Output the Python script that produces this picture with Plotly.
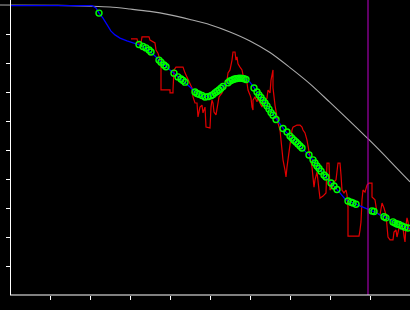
import plotly.graph_objects as go

# Reference curve (gray)
ref_x = [-0.25, 1.0, 1.5, 2.0, 2.5, 3.0, 3.5, 4.0, 4.5, 5.0, 5.5, 6.0, 6.5, 7.0, 7.5, 8.0, 8.5, 9.0, 9.5, 10.0]
ref_y = [1.0, 0.999, 0.998, 0.996, 0.993, 0.986, 0.978, 0.966, 0.950, 0.932, 0.907, 0.876, 0.836,
         0.784, 0.728, 0.664, 0.599, 0.532, 0.462, 0.390]

# Raw noisy series (red)
raw_x = [3.025, 3.175, 3.2, 3.275, 3.3, 3.475, 3.5, 3.575, 3.625, 3.65, 3.7, 3.75, 3.775, 3.775,
         4.0, 4.0, 4.075, 4.075, 4.1, 4.15, 4.325, 4.375, 4.45, 4.5, 4.55, 4.575, 4.625, 4.675,
         4.7, 4.75, 4.8, 4.825, 4.875, 4.9, 5.0, 5.025, 5.05, 5.075, 5.1, 5.15, 5.175, 5.2, 5.225,
         5.3, 5.325, 5.375, 5.425, 5.45, 5.5, 5.55, 5.575, 5.625, 5.65, 5.675, 5.7, 5.75, 5.8,
         5.825, 5.875, 5.925, 5.95, 6.0, 6.025, 6.05, 6.075, 6.075, 6.125, 6.175, 6.2, 6.25, 6.3,
         6.325, 6.375, 6.425, 6.45, 6.5, 6.525, 6.575, 6.575, 6.625, 6.675, 6.7, 6.75, 6.8, 6.825,
         6.875, 6.9, 6.925, 6.95, 7.0, 7.05, 7.075, 7.175, 7.25, 7.3, 7.325, 7.375, 7.425, 7.45,
         7.5, 7.55, 7.575, 7.6, 7.625, 7.675, 7.725, 7.75, 7.825, 7.9, 7.925, 7.975, 8.0, 8.05,
         8.1, 8.15, 8.2, 8.25, 8.275, 8.3, 8.35, 8.4, 8.425, 8.45, 8.45, 8.725, 8.75, 8.775, 8.8,
         8.825, 8.875, 8.925, 8.975, 9.05, 9.05, 9.125, 9.175, 9.25, 9.3, 9.35, 9.4, 9.425, 9.45,
         9.5, 9.575, 9.6, 9.65, 9.675, 9.725, 9.775, 9.825, 9.85, 9.875, 9.9, 9.925, 9.95, 9.975, 10.0]
raw_y = [0.883, 0.883, 0.869, 0.869, 0.890, 0.890, 0.879, 0.872, 0.869, 0.845, 0.834, 0.810, 0.790, 0.707,
         0.707, 0.697, 0.697, 0.707, 0.776, 0.786, 0.786, 0.766, 0.741, 0.724, 0.714, 0.683, 0.662, 0.662,
         0.614, 0.648, 0.655, 0.628, 0.648, 0.579, 0.576, 0.648, 0.672, 0.662, 0.631, 0.621, 0.648, 0.672, 0.683,
         0.697, 0.707, 0.717, 0.741, 0.766, 0.776, 0.810, 0.838, 0.838, 0.810, 0.821, 0.797, 0.786, 0.776,
         0.759, 0.752, 0.731, 0.707, 0.690, 0.679, 0.648, 0.638, 0.672, 0.683, 0.666, 0.679, 0.662, 0.648,
         0.662, 0.666, 0.679, 0.707, 0.697, 0.741, 0.776, 0.714, 0.655, 0.614, 0.593, 0.569, 0.510, 0.466,
         0.431, 0.407, 0.441, 0.466, 0.534, 0.569, 0.579, 0.586, 0.586, 0.579, 0.569, 0.559, 0.534, 0.510,
         0.476, 0.441, 0.407, 0.372, 0.397, 0.424, 0.362, 0.334, 0.341, 0.352, 0.455, 0.455, 0.362, 0.369,
         0.390, 0.397, 0.455, 0.455, 0.414, 0.362, 0.352, 0.362, 0.345, 0.303, 0.203, 0.203, 0.224, 0.252, 0.328,
         0.362, 0.355, 0.379, 0.386, 0.386, 0.338, 0.328, 0.283, 0.276, 0.317, 0.300, 0.276, 0.224, 0.200,
         0.190, 0.190, 0.217, 0.224, 0.200, 0.231, 0.241, 0.231, 0.203, 0.183, 0.241, 0.266, 0.252, 0.224, 0.231]

# Smoothed series (blue)
fit_x = [0.0, 2.05, 2.15, 2.225, 2.325, 2.425, 2.525, 2.625, 2.75, 2.925, 3.125, 3.25, 3.4, 3.5,
         3.625, 3.75, 3.875, 4.0, 4.125, 4.25, 4.375, 4.5, 4.625, 4.75, 4.875, 5.0, 5.125, 5.25,
         5.375, 5.5, 5.625, 5.75, 5.875, 6.0, 6.125, 6.25, 6.375, 6.5, 6.625, 6.75, 6.875, 7.0,
         7.125, 7.25, 7.375, 7.5, 7.625, 7.75, 7.875, 8.0, 8.125, 8.25, 8.375, 8.5, 8.625, 8.75,
         8.875, 9.0, 9.125, 9.25, 9.375, 9.5, 9.625, 9.75, 9.875, 10.0]
fit_y = [0.998, 0.998, 0.990, 0.972, 0.955, 0.934, 0.910, 0.897, 0.886, 0.876, 0.869, 0.862, 0.852, 0.841,
         0.824, 0.807, 0.790, 0.776, 0.762, 0.748, 0.734, 0.717, 0.700, 0.690, 0.683, 0.686, 0.697, 0.710,
         0.724, 0.738, 0.745, 0.748, 0.745, 0.734, 0.710, 0.686, 0.662, 0.634, 0.610, 0.586, 0.566, 0.548,
         0.531, 0.514, 0.497, 0.479, 0.455, 0.431, 0.410, 0.390, 0.372, 0.352, 0.331, 0.321, 0.314, 0.307,
         0.300, 0.293, 0.286, 0.276, 0.269, 0.259, 0.248, 0.241, 0.234, 0.228]

# Sample points (green circles)
pts_x = [2.225, 3.225, 3.325, 3.4, 3.475, 3.525, 3.725, 3.775, 3.85, 3.9, 4.1, 4.2, 4.275, 4.325, 4.375,
         4.625, 4.675, 4.725, 4.8, 4.875, 4.95, 5.025, 5.075, 5.125, 5.175, 5.225, 5.275, 5.325,
         5.45, 5.5, 5.55, 5.6, 5.65, 5.7, 5.75, 5.8, 5.85, 5.9,
         6.1, 6.175, 6.225, 6.275, 6.325, 6.375, 6.425, 6.475, 6.525, 6.575, 6.65,
         6.825, 6.925, 7.0, 7.05, 7.1, 7.15, 7.2, 7.25, 7.3,
         7.475, 7.575, 7.625, 7.675, 7.725, 7.775, 7.85, 7.9, 8.025, 8.1, 8.175,
         8.45, 8.525, 8.575, 8.65, 9.05, 9.1, 9.35, 9.4,
         9.575, 9.625, 9.675, 9.725, 9.8, 9.875, 9.95]
pts_y = [0.972, 0.864, 0.857, 0.852, 0.845, 0.838, 0.810, 0.803, 0.793, 0.787, 0.765, 0.752, 0.745, 0.740, 0.734,
         0.700, 0.695, 0.692, 0.688, 0.683, 0.684, 0.687, 0.691, 0.697, 0.702, 0.707, 0.713, 0.719,
         0.732, 0.738, 0.741, 0.744, 0.746, 0.747, 0.748, 0.747, 0.746, 0.743,
         0.714, 0.700, 0.690, 0.681, 0.671, 0.662, 0.652, 0.641, 0.629, 0.620, 0.605,
         0.574, 0.562, 0.548, 0.541, 0.534, 0.528, 0.521, 0.514, 0.507,
         0.483, 0.466, 0.455, 0.445, 0.436, 0.427, 0.414, 0.407, 0.386, 0.376, 0.364,
         0.324, 0.320, 0.317, 0.313, 0.290, 0.288, 0.270, 0.266,
         0.252, 0.248, 0.245, 0.243, 0.238, 0.234, 0.231]

marker_x = 8.95
x_ticks = [1, 2, 3, 4, 5, 6, 7, 8, 9]
y_ticks = [0.1, 0.2, 0.3, 0.4, 0.5, 0.6, 0.7, 0.8, 0.9]

fig = go.Figure()
fig.add_trace(go.Scatter(x=ref_x, y=ref_y, mode="lines",
                         line=dict(color="rgb(170,170,170)", width=1.1, shape="spline", smoothing=0.8)))
fig.add_trace(go.Scatter(x=raw_x, y=raw_y, mode="lines", line=dict(color="rgb(225,0,0)", width=1.2)))
fig.add_trace(go.Scatter(x=fit_x, y=fit_y, mode="lines", line=dict(color="rgb(0,0,255)", width=1.3)))
fig.add_trace(go.Scatter(x=pts_x, y=pts_y, mode="markers",
                         marker=dict(symbol="circle-open", size=6, color="rgb(0,255,0)", line=dict(width=1.4))))
fig.add_trace(go.Scatter(x=[marker_x, marker_x], y=[0, 1.02], mode="lines",
                         line=dict(color="rgb(160,0,170)", width=1.2)))

fig.add_shape(type="line", xref="paper", yref="paper", x0=10/410, x1=1, y0=0, y1=0,
              line=dict(color="white", width=1.2))

fig.update_layout(
    width=410, height=310,
    margin=dict(l=0, r=0, t=0, b=15),
    paper_bgcolor="black", plot_bgcolor="black",
    showlegend=False,
    xaxis=dict(range=[-0.25, 10], domain=[0, 1], showgrid=False, zeroline=False, showline=False,
               tickvals=x_ticks, ticks="outside", ticklen=4, tickwidth=1, tickcolor="white",
               showticklabels=False),
    yaxis=dict(range=[0, 295/290], anchor="free", position=10/410, showgrid=False, zeroline=False,
               showline=True, linecolor="white", linewidth=1.2,
               tickvals=y_ticks, ticks="outside", ticklen=4, tickwidth=1, tickcolor="white",
               showticklabels=False),
)

fig.write_html("out.html")
